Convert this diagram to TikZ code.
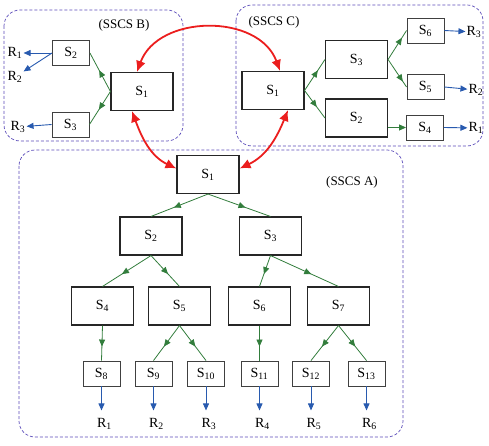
\documentclass[tikz,border=0pt]{standalone}
\usepackage{fontspec}
\setmainfont{Liberation Serif}
\usetikzlibrary{arrows.meta, positioning, decorations.markings}
\definecolor{framecol}{RGB}{90,75,185}
\definecolor{flowgreen}{RGB}{50,125,60}
\definecolor{resblue}{RGB}{40,90,175}
\definecolor{linkred}{RGB}{235,30,30}

\begin{document}
\begin{tikzpicture}[x=1pt, y=-1pt,
    font=\fontsize{14}{16}\selectfont,
    sbox/.style={draw=black!85, line width=1.1pt, minimum width=62pt, minimum height=38pt, inner sep=0pt},
    smallbox/.style={draw=black!75, line width=0.9pt, minimum width=37pt, minimum height=25pt, inner sep=0pt},
    frame/.style={draw=framecol, dash pattern=on 3pt off 2pt, line width=0.7pt, rounded corners=16pt},
    flow/.style={draw=flowgreen, line width=0.8pt, postaction={decorate},
        decoration={markings, mark=at position #1 with {\arrow{Triangle[length=7pt,width=6pt]}}}},
    flow/.default=0.6,
    flowend/.style={draw=flowgreen, line width=0.8pt, -{Triangle[length=7pt,width=6pt]}},
    result/.style={draw=resblue, line width=0.9pt, -{Triangle[length=7pt,width=6pt]}},
    link/.style={draw=linkred, line width=1.8pt, {Latex[length=11pt,width=10pt]}-{Latex[length=11pt,width=10pt]}},
    rlab/.style={inner sep=1pt},
    tag/.style={font=\fontsize{13}{15}\selectfont, inner sep=1pt}
]
\useasboundingbox (0,0) rectangle (489,446);

% dashed frames
\draw[frame] (4,10) rectangle (183,141);
\draw[frame] (236,5) rectangle (483,146);
\draw[frame] (19,150) rectangle (403,437);
\node[tag] (tagB) at (124,25) {(SSCS B)};
\node[tag] (tagC) at (274,22) {(SSCS C)};
\node[tag] (tagA) at (352,182) {(SSCS A)};

% SSCS B
\node[sbox] (bS1) at (142,91.5) {S\textsubscript{1}};
\node[smallbox] (bS2) at (71,53) {S\textsubscript{2}};
\node[smallbox] (bS3) at (70.5,124.5) {S\textsubscript{3}};
\node[rlab] (bR1) at (15,53) {R\textsubscript{1}};
\node[rlab] (bR2) at (15,77) {R\textsubscript{2}};
\node[rlab] (bR3) at (18,127) {R\textsubscript{3}};

\draw[flow=0.55] (bS1.west) -- (bS2.east);
\draw[flow=0.55] (bS1.west) -- (bS3.east);
\draw[result] (bS2.west) -- (bR1);
\draw[result] (bS2.west) -- (bR2);
\draw[result] (bS3.west) -- (bR3);

% SSCS C
\node[sbox] (cS1) at (273,90.5) {S\textsubscript{1}};
\node[sbox] (cS3) at (356.5,59.5) {S\textsubscript{3}};
\node[sbox] (cS2) at (356.5,118) {S\textsubscript{2}};
\node[smallbox] (cS6) at (425.5,30.5) {S\textsubscript{6}};
\node[smallbox] (cS5) at (425.5,87) {S\textsubscript{5}};
\node[smallbox] (cS4) at (425,127.5) {S\textsubscript{4}};
\node[rlab] (cR3) at (474,32) {R\textsubscript{3}};
\node[rlab] (cR2) at (476,90) {R\textsubscript{2}};
\node[rlab] (cR1) at (476,128) {R\textsubscript{1}};

\draw[flow=0.65] (cS1.east) -- (cS3.west);
\draw[flow=0.6] (cS1.east) -- (cS2.west);
\draw[flow=0.75] (cS3.east) -- (cS6.west);
\draw[flow=0.8] (cS3.east) -- (cS5.west);
\draw[flowend] (cS2.east |- cS4.west) -- (cS4.west);
\draw[result] (cS6.east) -- (cR3);
\draw[result] (cS5.east) -- (cR2);
\draw[result] (cS4.east) -- (cR1);

% SSCS A
\node[sbox] (aS1) at (208,174.5) {S\textsubscript{1}};
\node[sbox] (aS2) at (151,236) {S\textsubscript{2}};
\node[sbox] (aS3) at (270.5,236) {S\textsubscript{3}};
\node[sbox] (aS4) at (102.5,306) {S\textsubscript{4}};
\node[sbox] (aS5) at (179.5,306) {S\textsubscript{5}};
\node[sbox] (aS6) at (259.5,306) {S\textsubscript{6}};
\node[sbox] (aS7) at (338.5,306) {S\textsubscript{7}};
\node[smallbox] (aS8) at (101.5,373.5) {S\textsubscript{8}};
\node[smallbox] (aS9) at (153.5,373.5) {S\textsubscript{9}};
\node[smallbox] (aS10) at (206,373.5) {S\textsubscript{10}};
\node[smallbox] (aS11) at (259.5,373.5) {S\textsubscript{11}};
\node[smallbox] (aS12) at (311,373.5) {S\textsubscript{12}};
\node[smallbox] (aS13) at (366.5,373.5) {S\textsubscript{13}};

\draw[flow] (aS1.south) -- (aS2.north);
\draw[flow] (aS1.south) -- (aS3.north);
\draw[flow] (aS2.south) -- (aS4.north);
\draw[flow] (aS2.south) -- (aS5.north);
\draw[flow] (aS3.south) -- (aS6.north);
\draw[flow] (aS3.south) -- (aS7.north);
\draw[flow] (aS4.south) -- (aS8.north);
\draw[flow] (aS5.south) -- (aS9.north);
\draw[flow] (aS5.south) -- (aS10.north);
\draw[flow] (aS6.south) -- (aS11.north);
\draw[flow] (aS7.south) -- (aS12.north);
\draw[flow] (aS7.south) -- (aS13.north);

\draw[result] (aS8.south) -- ++(0,24) coordinate (aE1);
\draw[result] (aS9.south) -- ++(0,24) coordinate (aE2);
\draw[result] (aS10.south) -- ++(0,24) coordinate (aE3);
\draw[result] (aS11.south) -- ++(0,24) coordinate (aE4);
\draw[result] (aS12.south) -- ++(0,24) coordinate (aE5);
\draw[result] (aS13.south) -- ++(0,24) coordinate (aE6);
\node[rlab, below=7pt of aE1, xshift=3pt] (aR1) {R\textsubscript{1}};
\node[rlab, below=7pt of aE2, xshift=3pt] (aR2) {R\textsubscript{2}};
\node[rlab, below=7pt of aE3, xshift=3pt] (aR3) {R\textsubscript{3}};
\node[rlab, below=7pt of aE4, xshift=3pt] (aR4) {R\textsubscript{4}};
\node[rlab, below=7pt of aE5, xshift=3pt] (aR5) {R\textsubscript{5}};
\node[rlab, below=7pt of aE6, xshift=3pt] (aR6) {R\textsubscript{6}};

% links between the subsystems
\draw[link] ([xshift=-5pt]bS1.north) to[out=70, in=110, looseness=1.1] ([xshift=7pt]cS1.north);
\draw[link] ([xshift=-10pt]bS1.south) to[out=-70, in=155] ([yshift=6pt]aS1.west);
\draw[link] ([xshift=15pt]cS1.south) to[out=-112, in=25] ([yshift=6pt]aS1.east);
\end{tikzpicture}
\end{document}
